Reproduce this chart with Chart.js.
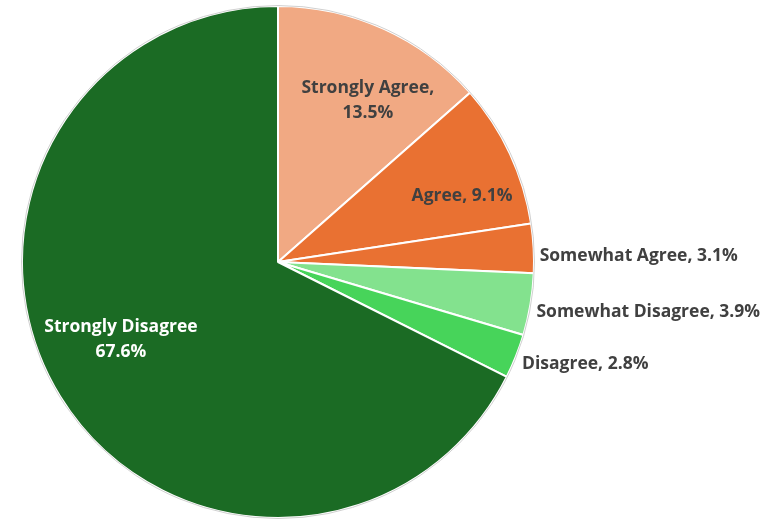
<!DOCTYPE html>
<html>
<head>
<meta charset="utf-8">
<script src="https://cdn.jsdelivr.net/npm/chart.js@4/dist/chart.umd.min.js"></script>
<style>
  html, body { margin: 0; padding: 0; background: #fff; }
  #wrap { width: 767px; height: 519px; }
</style>
</head>
<body>
<div id="wrap"><canvas id="c" width="767" height="519"></canvas></div>
<script>
const categories = ["Strongly Agree", "Agree", "Somewhat Agree", "Somewhat Disagree", "Disagree", "Strongly Disagree"];
const shares = [13.5, 9.1, 3.1, 3.9, 2.8, 67.6];
const sliceColors = ["#F1A983", "#E97132", "#E97132", "#83E28E", "#47D45A", "#1B6B24"];

// how each label sits: inside (lines, radius fraction, angle shift in degrees) or outside
const labelPlacement = [
    { inside: true, r: 0.74, shift: 4, color: "#404040", lines: (c, v) => [c + ",", v + "%"] },
    { inside: true, r: 0.77, shift: 4, color: "#404040", lines: (c, v) => [c + ", " + v + "%"] },
    { inside: false, color: "#404040" },
    { inside: false, color: "#404040" },
    { inside: false, color: "#404040" },
    { inside: true, r: 0.675, shift: 7, color: "#FFFFFF", lines: (c, v) => [c, v + "%"] }
];

const labelFont = "bold 17.5px 'Open Sans', sans-serif";

const sliceLabels = {
    id: "sliceLabels",
    afterDatasetsDraw(chart) {
        const ctx = chart.ctx;
        const arcs = chart.getDatasetMeta(0).data;
        ctx.save();
        // faint outline round the pie
        const a0 = arcs[0];
        ctx.beginPath();
        ctx.arc(a0.x, a0.y, a0.outerRadius + 0.5, 0, Math.PI * 2);
        ctx.strokeStyle = "#d0d0d0";
        ctx.lineWidth = 1;
        ctx.stroke();

        ctx.font = labelFont;
        arcs.forEach((arc, i) => {
            const p = labelPlacement[i];
            const cat = categories[i];
            const val = shares[i].toFixed(1);
            let mid = (arc.startAngle + arc.endAngle) / 2;
            ctx.fillStyle = p.color;
            if (p.inside) {
                mid += p.shift * Math.PI / 180;
                const r = arc.outerRadius * p.r;
                const x = arc.x + Math.cos(mid) * r;
                const y = arc.y + Math.sin(mid) * r + 5;
                const lines = p.lines(cat, val);
                const lh = 25;
                ctx.textAlign = "center";
                ctx.textBaseline = "middle";
                lines.forEach((t, k) => {
                    ctx.fillText(t, x, y + (k - (lines.length - 1) / 2) * lh);
                });
            } else {
                const x = arc.x + Math.cos(mid) * arc.outerRadius + 6;
                const y = arc.y + Math.sin(mid) * arc.outerRadius + 8;
                ctx.textAlign = "left";
                ctx.textBaseline = "middle";
                ctx.fillText(cat + ", " + val + "%", x, y);
            }
        });
        ctx.restore();
    }
};

new Chart(document.getElementById("c"), {
    type: "pie",
    data: {
        labels: categories,
        datasets: [{
            data: shares,
            backgroundColor: sliceColors,
            borderColor: "#FFFFFF",
            borderWidth: 2
        }]
    },
    options: {
        responsive: false,
        animation: false,
        layout: { padding: { left: 21, right: 232, top: 5, bottom: 0 } },
        plugins: {
            legend: { display: false },
            tooltip: { enabled: false }
        }
    },
    plugins: [sliceLabels]
});
</script>
</body>
</html>
